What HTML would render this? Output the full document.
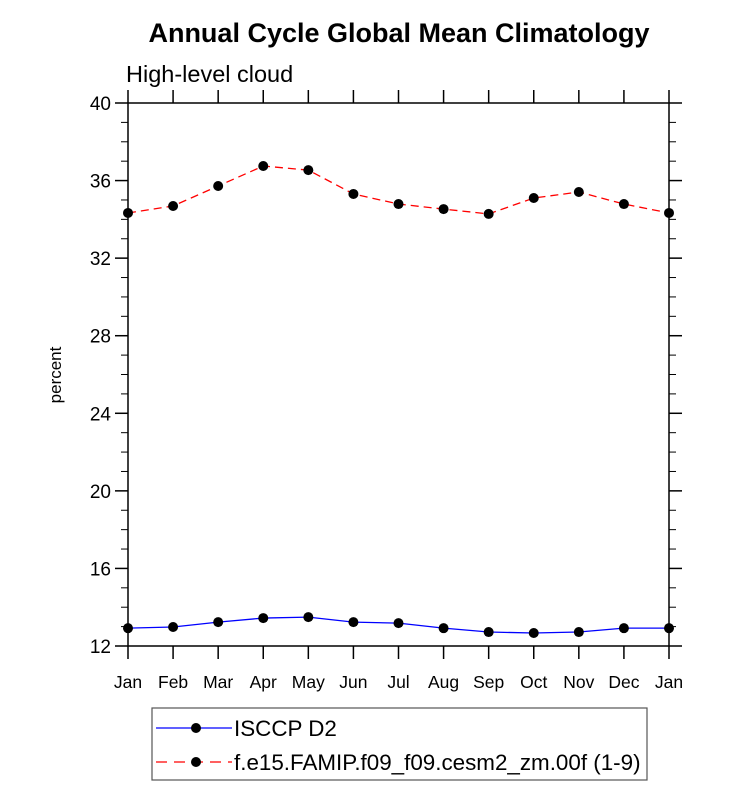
<!DOCTYPE html>
<html><head><meta charset="utf-8"><style>
body{margin:0;background:#fff;font-family:"Liberation Sans",sans-serif}
</style></head><body>
<svg width="733" height="787" viewBox="0 0 733 787" xmlns="http://www.w3.org/2000/svg">
<text x="399" y="42" text-anchor="middle" font-size="27" font-weight="bold">Annual Cycle Global Mean Climatology</text>
<text x="126" y="82" font-size="23.5">High-level cloud</text>
<text transform="translate(61,375) rotate(-90)" text-anchor="middle" font-size="17">percent</text>
<g id="axes"></g>
<g id="series"></g>
<rect x="152" y="708" width="495" height="72" fill="none" stroke="#555" stroke-width="1.2"/>
<g>
<line x1="156" y1="728" x2="232" y2="728" stroke="#00f" stroke-width="1.3"/>
<circle cx="196" cy="728" r="5" fill="#000"/>
<text x="234" y="736" font-size="22.4">ISCCP D2</text>
</g>
<g>
<line x1="156" y1="762" x2="232" y2="762" stroke="#f00" stroke-width="1.3" stroke-dasharray="11,7"/>
<circle cx="196" cy="762" r="5" fill="#000"/>
<text x="234" y="770" font-size="22.4">f.e15.FAMIP.f09_f09.cesm2_zm.00f (1-9)</text>
</g>
</svg>
<script>
const months=["Jan","Feb","Mar","Apr","May","Jun","Jul","Aug","Sep","Oct","Nov","Dec","Jan"];
const yTicks=[12,16,20,24,28,32,36,40];
const isccp=[12.92,12.98,13.23,13.44,13.49,13.23,13.18,12.92,12.72,12.67,12.72,12.92,12.92];
const model=[34.33,34.69,35.72,36.75,36.54,35.31,34.79,34.53,34.28,35.10,35.41,34.79,34.33];
const X0=128,X1=669,Y0=646,Y1=103,YMIN=12,YMAX=40;
const xs=i=>X0+(X1-X0)*i/(months.length-1);
const ys=v=>Y0-(Y0-Y1)*(v-YMIN)/(YMAX-YMIN);
const NS="http://www.w3.org/2000/svg";
function mk(t,a,p){const e=document.createElementNS(NS,t);for(const k in a)e.setAttribute(k,a[k]);p.appendChild(e);return e;}
const ax=document.getElementById('axes');
const fr=mk('rect',{x:X0,y:Y1,width:X1-X0,height:Y0-Y1,fill:'none',stroke:'#000','stroke-width':1.5},ax);


for(let v=YMIN;v<=YMAX;v++){const maj=(v-YMIN)%4===0,L=maj?13:7;const y=ys(v);
mk('line',{x1:X0-L,y1:y,x2:X0,y2:y,stroke:'#000','stroke-width':maj?1.5:1},ax);
mk('line',{x1:X1,y1:y,x2:X1+L,y2:y,stroke:'#000','stroke-width':maj?1.5:1},ax);}
yTicks.forEach(v=>{const t=mk('text',{x:X0-17,y:ys(v)+7,'text-anchor':'end','font-size':19},ax);t.textContent=v;

});
months.forEach((m,i)=>{const x=xs(i);
mk('line',{x1:x,y1:Y0,x2:x,y2:Y0+13,stroke:'#000','stroke-width':1.5},ax);
mk('line',{x1:x,y1:Y1-13,x2:x,y2:Y1,stroke:'#000','stroke-width':1.5},ax);
const t=mk('text',{x:x,y:688,'text-anchor':'middle','font-size':17.5},ax);t.textContent=m;

});
const sg=document.getElementById('series');
function draw(vals,color,dash,name){
const pts=vals.map((v,i)=>xs(i)+','+ys(v)).join(' ');
const pl=mk('polyline',{points:pts,fill:'none',stroke:color,'stroke-width':1.3,'stroke-dasharray':dash},sg);


vals.forEach((v,i)=>{const c=mk('circle',{cx:xs(i),cy:ys(v),r:5,fill:'#000'},sg);

});}
draw(isccp,'#00f','none','isccp');
draw(model,'#f00','8,5','model');
</script>
</body></html>
